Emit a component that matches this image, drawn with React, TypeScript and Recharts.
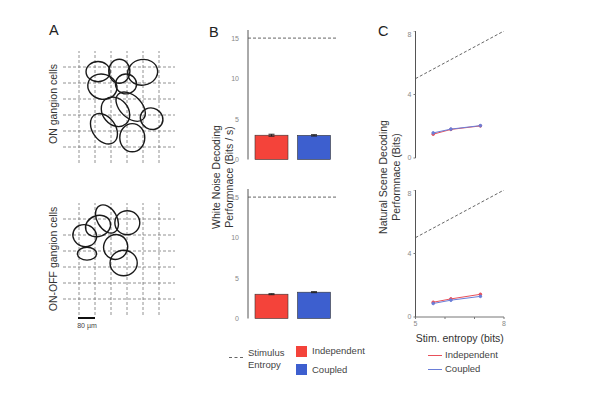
import React from 'react';
import {
  ScatterChart, Scatter, BarChart, Bar, LineChart, Line, XAxis, YAxis,
  ReferenceLine, ErrorBar,
} from 'recharts';

// Receptive field ellipses (grid units, rx/ry in grid units, angle in degrees)
const onCells = [
  { x: 2.19, y: 5.71, rx: 0.75, ry: 0.63, angle: 0 },
  { x: 3.52, y: 5.73, rx: 0.66, ry: 0.75, angle: 0 },
  { x: 4.98, y: 5.67, rx: 0.94, ry: 0.8, angle: -10 },
  { x: 2.46, y: 4.77, rx: 0.92, ry: 0.78, angle: 15 },
  { x: 3.94, y: 4.94, rx: 0.66, ry: 0.62, angle: 0 },
  { x: 3.28, y: 3.2, rx: 1.0, ry: 0.8, angle: 50 },
  { x: 4.23, y: 3.52, rx: 1.1, ry: 0.68, angle: 45 },
  { x: 5.54, y: 2.77, rx: 0.72, ry: 0.66, angle: 30 },
  { x: 2.56, y: 2.14, rx: 1.05, ry: 0.72, angle: 55 },
  { x: 4.33, y: 1.58, rx: 0.78, ry: 0.88, angle: 0 },
];
const onOffCells = [
  { x: 1.36, y: 4.96, rx: 0.75, ry: 0.68, angle: 20 },
  { x: 2.19, y: 5.56, rx: 0.8, ry: 0.65, angle: -20 },
  { x: 2.75, y: 6.0, rx: 0.95, ry: 0.62, angle: 60 },
  { x: 4.02, y: 5.77, rx: 0.78, ry: 0.75, angle: 0 },
  { x: 1.5, y: 3.83, rx: 0.6, ry: 0.4, angle: 0 },
  { x: 3.29, y: 4.25, rx: 0.75, ry: 0.78, angle: 20 },
  { x: 3.79, y: 3.25, rx: 0.85, ry: 0.8, angle: 0 },
];
const gridLines = [1, 2, 3, 4, 5, 6];

// White noise decoding (bits / s)
const models = ['Independent', 'Coupled'];
const wnOn = [3.0, 2.98];
const wnOnErr = [0.12, 0.08];
const wnOnOff = [3.0, 3.25];
const wnOnOffErr = [0.06, 0.06];
const wnEntropy = 15;

// Natural scene decoding (bits)
const stimEntropy = [5.6, 6.2, 7.2];
const nsOnIndep = [1.5, 1.8, 2.02];
const nsOnCoupled = [1.58, 1.82, 2.04];
const nsOnOffIndep = [0.93, 1.14, 1.43];
const nsOnOffCoupled = [0.85, 1.06, 1.3];

const RED = '#f4433a';
const BLUE = '#3d5fcf';
const LRED = '#e8505a';
const LBLUE = '#6a7ed8';
const FONT = '"Liberation Sans", Arial, sans-serif';
const PX = 16; // px per grid unit in panel A

const tickStyle = { fontSize: 7, fill: '#888', fontFamily: FONT };

const EllipseShape = (props: any) => {
  const { cx, cy, payload } = props;
  return (
    <ellipse
      cx={cx} cy={cy} rx={payload.rx * PX} ry={payload.ry * PX}
      transform={`rotate(${payload.angle} ${cx} ${cy})`}
      fill="none" stroke="#1a1a1a" strokeWidth={1.4}
    />
  );
};

const CellPanel = ({ data, top }: { data: any[]; top: number }) => (
  <ScatterChart width={200} height={180} style={{ position: 'absolute', left: 0, top }}
    margin={{ left: 63, right: 25, top: 0, bottom: 180 - 112 }}>
    <XAxis type="number" dataKey="x" domain={[0, 7]} hide />
    <YAxis type="number" dataKey="y" domain={[0, 7]} hide />
    {gridLines.map(v => (
      <ReferenceLine key={'v' + v} x={v} stroke="#777" strokeDasharray="3 2" strokeWidth={0.8} />
    ))}
    {gridLines.map(v => (
      <ReferenceLine key={'h' + v} y={v} stroke="#777" strokeDasharray="3 2" strokeWidth={0.8} />
    ))}
    <Scatter data={data} shape={EllipseShape} isAnimationActive={false} />
  </ScatterChart>
);

const BarPanel = ({ values, errs, top }: { values: number[]; errs: number[]; top: number }) => {
  const data = models.map((m, i) => ({ name: m, value: values[i], err: errs[i] }));
  return (
    <BarChart width={160} height={160} data={data} style={{ position: 'absolute', left: 190, top }}
      margin={{ left: 38, right: 13, top: 0, bottom: 160 - 129.5 }}>
      <XAxis dataKey="name" tick={false} tickLine={false} height={0}
        axisLine={{ stroke: '#aaa', strokeWidth: 2.5 }} padding={{ left: 2, right: 2 }} />
      <YAxis domain={[0, 16]} ticks={[0, 5, 10, 15]} width={20} tickLine={false}
        axisLine={{ stroke: '#555' }} tick={tickStyle} tickMargin={3} />
      <ReferenceLine y={wnEntropy} stroke="#555" strokeDasharray="3 2" strokeWidth={0.9} />
      <Bar dataKey="value" barSize={33} stroke="#333" strokeWidth={0.6} isAnimationActive={false}
        shape={(p: any) => (
          <rect x={p.x} y={p.y} width={p.width} height={p.height}
            fill={p.index === 0 ? RED : BLUE} stroke="#333" strokeWidth={0.6} />
        )}>
        <ErrorBar dataKey="err" width={3} stroke="#222" strokeWidth={1} />
      </Bar>
    </BarChart>
  );
};

const LinePanel = ({ indep, coupled, top, showX }:
  { indep: number[]; coupled: number[]; top: number; showX: boolean }) => {
  const data = stimEntropy.map((e, i) => ({ entropy: e, independent: indep[i], coupled: coupled[i] }));
  const h = showX ? 190 : 160;
  const xh = showX ? 25 : 0;
  return (
    <LineChart width={160} height={h} data={data} style={{ position: 'absolute', left: 360, top }}
      margin={{ left: 35.5, right: 16, top: 0, bottom: h - 127 - xh }}>
      <XAxis type="number" dataKey="entropy" domain={[5, 8]} ticks={[5, 6, 7, 8]}
        tickFormatter={(v: number) => (showX && (v === 5 || v === 8) ? String(v) : '')}
        height={xh} tickSize={2} tickLine={{ stroke: '#777' }} axisLine={{ stroke: '#777' }}
        tick={tickStyle} tickMargin={2}
        label={showX ? { value: 'Stim. entropy (bits)', position: 'insideBottom', offset: 0,
          style: { fontSize: 10.5, fill: '#333', fontFamily: FONT } } : undefined} />
      <YAxis type="number" domain={[0, 8]} ticks={[0, 4, 8]} width={20} tickSize={2}
        tickLine={{ stroke: '#777' }} axisLine={{ stroke: '#555' }} tick={tickStyle} tickMargin={2} />
      <ReferenceLine segment={[{ x: 5, y: 5 }, { x: 8, y: 8 }]} stroke="#555"
        strokeDasharray="3 2" strokeWidth={0.9} />
      <Line dataKey="independent" stroke={LRED} strokeWidth={1} isAnimationActive={false}
        dot={{ r: 1.3, fill: LRED, stroke: LRED }} />
      <Line dataKey="coupled" stroke={LBLUE} strokeWidth={1} isAnimationActive={false}
        dot={{ r: 1.3, fill: LBLUE, stroke: LBLUE }} />
    </LineChart>
  );
};

const Rot = ({ x, y, lines, size = 10 }: { x: number; y: number; lines: string[]; size?: number }) => (
  <div style={{ position: 'absolute', left: x, top: y, width: 0, height: 0 }}>
    <div style={{
      position: 'absolute', left: 0, top: 0, transform: 'translate(-50%, -50%) rotate(-90deg)',
      whiteSpace: 'nowrap', textAlign: 'center', fontSize: size, lineHeight: `${size + 2}px`, color: '#333',
    }}>
      {lines.map(l => <div key={l}>{l}</div>)}
    </div>
  </div>
);

const Txt = ({ x, y, children, size = 9.5, color = '#444' }: any) => (
  <div style={{ position: 'absolute', left: x, top: y, transform: 'translateY(-50%)', fontSize: size,
    color, whiteSpace: 'nowrap', lineHeight: 1 }}>{children}</div>
);

export default function App() {
  return (
    <div style={{ position: 'absolute', left: 0, top: 0, width: 601, height: 410, background: '#fff',
      fontFamily: FONT, overflow: 'hidden' }}>
      <Txt x={49} y={30} size={14.5} color="#222">A</Txt>
      <Txt x={209} y={32} size={14.5} color="#222">B</Txt>
      <Txt x={378} y={31} size={14.5} color="#222">C</Txt>

      <CellPanel data={onCells} top={51} />
      <CellPanel data={onOffCells} top={203} />
      <Rot x={53} y={104} lines={['ON gangion cells']} size={10.5} />
      <Rot x={53} y={259} lines={['ON-OFF gangion cells']} size={10.5} />
      <div style={{ position: 'absolute', left: 78, top: 317, width: 17, height: 2, background: '#111' }} />
      <div style={{ position: 'absolute', left: 87, top: 325, transform: 'translate(-50%, -50%)',
        fontSize: 7, color: '#444', whiteSpace: 'nowrap' }}>80 µm</div>

      <BarPanel values={wnOn} errs={wnOnErr} top={30} />
      <BarPanel values={wnOnOff} errs={wnOnOffErr} top={189} />
      <Rot x={222} y={177} lines={['White Noise Decoding', 'Performnace (Bits / s)']} size={10.5} />

      <LinePanel indep={nsOnIndep} coupled={nsOnCoupled} top={31} showX={false} />
      <LinePanel indep={nsOnOffIndep} coupled={nsOnOffCoupled} top={190} showX={true} />
      <Rot x={389} y={177} lines={['Natural Scene Decoding', 'Performnace (Bits)']} size={10.5} />

      <div style={{ position: 'absolute', left: 229, top: 357, width: 14, borderTop: '1px dashed #666' }} />
      <Txt x={248} y={353}>Stimulus</Txt>
      <Txt x={248} y={365}>Entropy</Txt>
      <div style={{ position: 'absolute', left: 296, top: 346, width: 11, height: 11, background: RED }} />
      <Txt x={312} y={351}>Independent</Txt>
      <div style={{ position: 'absolute', left: 296, top: 364, width: 11, height: 11, background: BLUE }} />
      <Txt x={312} y={370}>Coupled</Txt>

      <div style={{ position: 'absolute', left: 428, top: 355, width: 14, height: 1, background: LRED }} />
      <Txt x={445} y={355}>Independent</Txt>
      <div style={{ position: 'absolute', left: 428, top: 369, width: 14, height: 1, background: LBLUE }} />
      <Txt x={445} y={369}>Coupled</Txt>
    </div>
  );
}
